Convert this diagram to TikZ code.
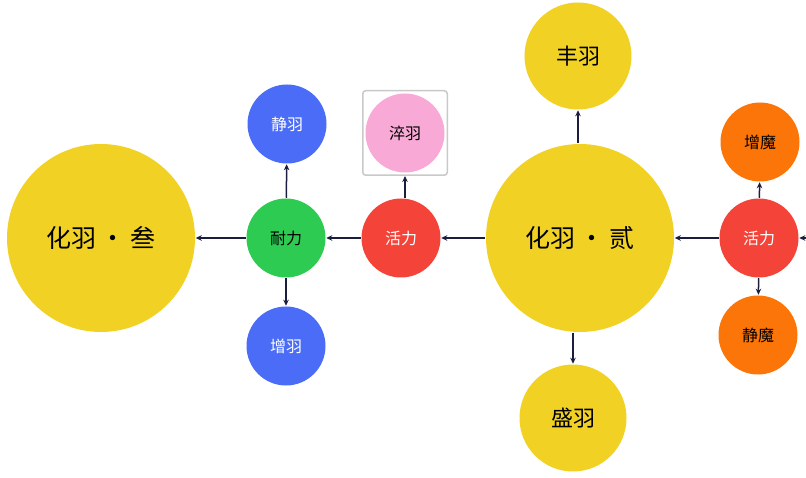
\documentclass[tikz,border=0pt]{standalone}
\usepackage{fontspec}
\newfontfamily\cjk{Noto Sans CJK SC}
\usepackage{xcolor}
\usetikzlibrary{arrows.meta,fit}

\definecolor{featheryellow}{HTML}{F1D224}
\definecolor{featherblue}{HTML}{4A6CF6}
\definecolor{staminagreen}{HTML}{2DCB52}
\definecolor{vitalred}{HTML}{F4443A}
\definecolor{temperpink}{HTML}{F9A9D6}
\definecolor{magicorange}{HTML}{FB7508}
\definecolor{linkblue}{HTML}{1B1D3C}
\definecolor{framegray}{HTML}{C9C9C9}

\begin{document}
\begin{tikzpicture}[x=1pt,y=-1pt]
        \tikzstyle{every path}=[line width=1.5pt]

        \tikzstyle{skill}=[circle,inner sep=0pt,minimum size=79pt,
            font=\cjk\fontsize{16}{16}\selectfont]
        \tikzstyle{stage}=[circle,inner sep=0pt,minimum size=188pt,fill=featheryellow,
            font=\cjk\fontsize{25}{25}\selectfont]
        \tikzstyle{reward}=[circle,inner sep=0pt,minimum size=107pt,fill=featheryellow,
            font=\cjk\fontsize{22}{22}\selectfont]
        \tikzstyle{link}=[-{Stealth[length=6pt,width=5.5pt]},draw=linkblue]

        \useasboundingbox (0,0) rectangle (806,478);

        %% Left branch
        \node[stage] (stage_3) at (101,238) {化羽\,·\,叁};
        \node[skill,fill=staminagreen] (stamina) at (286,238) {耐力};
        \node[skill,fill=featherblue,text=white] (jingyu) at (287,124) {静羽};
        \node[skill,fill=featherblue,text=white] (zengyu) at (286,346) {增羽};
        \node[skill,fill=vitalred,text=white] (vital_1) at (401,238) {活力};
        \node[skill,fill=temperpink] (cuiyu) at (405,133) {淬羽};
        \node[draw=framegray,rounded corners=3pt,inner sep=2pt,fit=(cuiyu)] (cuibox) {};

        %% Middle branch
        \node[stage] (stage_2) at (580,238) {化羽\,·\,贰};
        \node[reward] (fengyu) at (578,56) {丰羽};
        \node[reward] (shengyu) at (573,418) {盛羽};

        %% Right branch
        \node[skill,fill=vitalred,text=white] (vital_2) at (759,238) {活力};
        \node[skill,fill=magicorange] (zengmo) at (760,142) {增魔};
        \node[skill,fill=magicorange] (jingmo) at (758,335) {静魔};
        \coordinate (incoming) at (806,238);

        % Edges
        \draw[link] (incoming) -- (vital_2);
        \draw[link] (vital_2) -- (stage_2);
        \draw[link] (vital_2) -- (zengmo);
        \draw[link] (vital_2) -- (jingmo);
        \draw[link] (stage_2.north -| fengyu) -- (fengyu);
        \draw[link] (stage_2.south -| shengyu) -- (shengyu);
        \draw[link] (stage_2) -- (vital_1);
        \draw[link] (vital_1.north -| cuibox) -- (cuibox);
        \draw[link] (vital_1) -- (stamina);
        \draw[link] (stamina) -- (jingyu);
        \draw[link] (stamina) -- (zengyu);
        \draw[link] (stamina) -- (stage_3);
\end{tikzpicture}
\end{document}
